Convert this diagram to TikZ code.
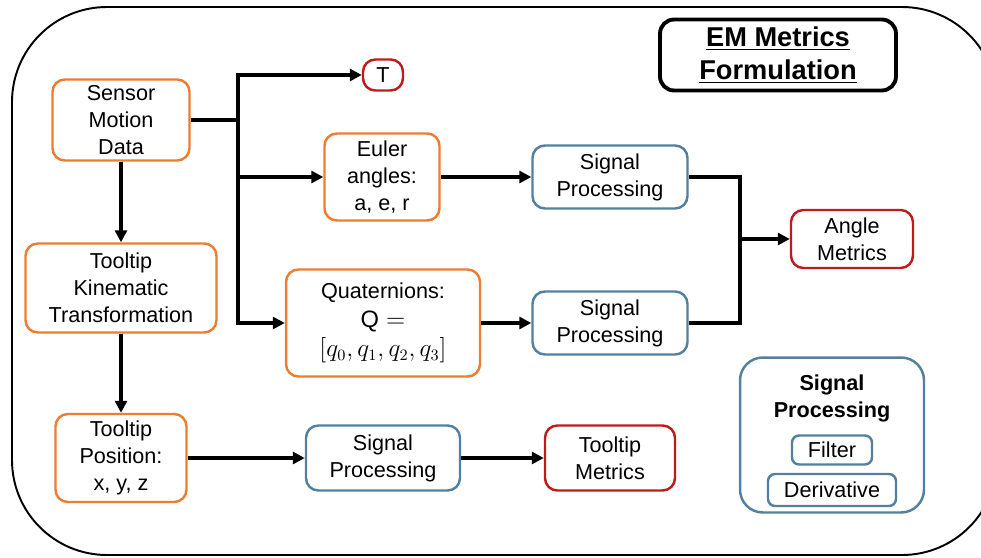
\documentclass[tikz,border=0pt]{standalone}
\usepackage{fontspec}
\setmainfont{Liberation Sans}
\usetikzlibrary{arrows.meta}
\definecolor{boxorange}{RGB}{237,125,49}
\definecolor{boxblue}{RGB}{82,128,158}
\definecolor{boxred}{RGB}{190,28,28}
\tikzset{
  blk/.style={rectangle,draw,rounded corners=7pt,line width=1.4pt,align=center,inner sep=0pt,font=\fontsize{12.3}{15.4}\selectfont},
  src/.style={blk,draw=boxorange},
  sig/.style={blk,draw=boxblue},
  res/.style={blk,draw=boxred},
  wire/.style={line width=2.3pt},
  arr/.style={wire,-{Triangle[length=6.8pt,width=6.8pt]}},
}
\begin{document}
\begin{tikzpicture}[x=0.02cm,y=-0.02cm]
        \clip (0,0) rectangle (981,558);
        \draw[line width=1.1pt,rounded corners=1.9cm] (12,7) rectangle (997,555);
        \node[blk,line width=2.2pt,rounded corners=8pt,minimum width=4.72cm,minimum height=1.42cm,font=\fontsize{15.5}{18.8}\selectfont\bfseries] (title) at (778,55) {\underline{EM Metrics}\\\underline{Formulation}};
        \node[src,minimum width=2.74cm,minimum height=1.62cm] (smd) at (121,120) {Sensor\\Motion\\Data};
        \node[res,minimum width=0.8cm,minimum height=0.62cm] (T) at (383,75) {T};
        \node[src,minimum width=2.3cm,minimum height=1.74cm] (euler) at (382,177) {Euler\\angles:\\a, e, r};
        \node[src,minimum width=3.88cm,minimum height=2.14cm,font=\fontsize{12.3}{16.5}\selectfont] (quat) at (383,323) {Quaternions:\\{\fontsize{13.5}{16.5}\selectfont$\mathrm{Q}=$}\\{\fontsize{13.5}{16.5}\selectfont$[q_0,q_1,q_2,q_3]$}};
        \node[sig,minimum width=3.1cm,minimum height=1.26cm] (sp1) at (610,177) {Signal\\Processing};
        \node[sig,minimum width=3.1cm,minimum height=1.26cm] (sp2) at (610,323) {Signal\\Processing};
        \node[res,minimum width=2.44cm,minimum height=1.16cm] (angle) at (852,239) {Angle\\Metrics};
        \node[src,minimum width=3.82cm,minimum height=1.78cm] (tkt) at (121,288) {Tooltip\\Kinematic\\Transformation};
        \node[src,minimum width=2.62cm,minimum height=1.76cm] (tpos) at (121,458) {Tooltip\\Position:\\x, y, z};
        \node[sig,minimum width=3.08cm,minimum height=1.3cm] (sp3) at (383,458) {Signal\\Processing};
        \node[res,minimum width=2.6cm,minimum height=1.3cm] (tm) at (610,458) {Tooltip\\Metrics};
        % legend
        \node[sig,rounded corners=13pt,minimum width=3.68cm,minimum height=3.1cm] (legend) at (832,435) {};
        \node[align=center,font=\fontsize{12.3}{15.4}\selectfont\bfseries] (legtitle) at (832,398) {Signal\\Processing};
        \node[sig,rounded corners=4pt,minimum width=1.6cm,minimum height=0.58cm] (filter) at (832,450) {Filter};
        \node[sig,rounded corners=4pt,minimum width=2.56cm,minimum height=0.64cm] (deriv) at (832,490) {Derivative};
        % connectors
        \coordinate (jl) at (238,120);
        \coordinate (jr) at (740,239);
        \draw[wire] (smd) -- (jl);
        \draw[arr] (jl) |- (T);
        \draw[arr] (jl) |- (euler);
        \draw[arr] (jl) |- (quat);
        \draw[arr] (euler) -- (sp1);
        \draw[arr] (quat) -- (sp2);
        \draw[wire] (sp1) -| (jr);
        \draw[wire] (sp2) -| (jr);
        \draw[arr] (jr) -- (angle);
        \draw[arr] (smd) -- (tkt);
        \draw[arr] (tkt) -- (tpos);
        \draw[arr] (tpos) -- (sp3);
        \draw[arr] (sp3) -- (tm);
\end{tikzpicture}
\end{document}
